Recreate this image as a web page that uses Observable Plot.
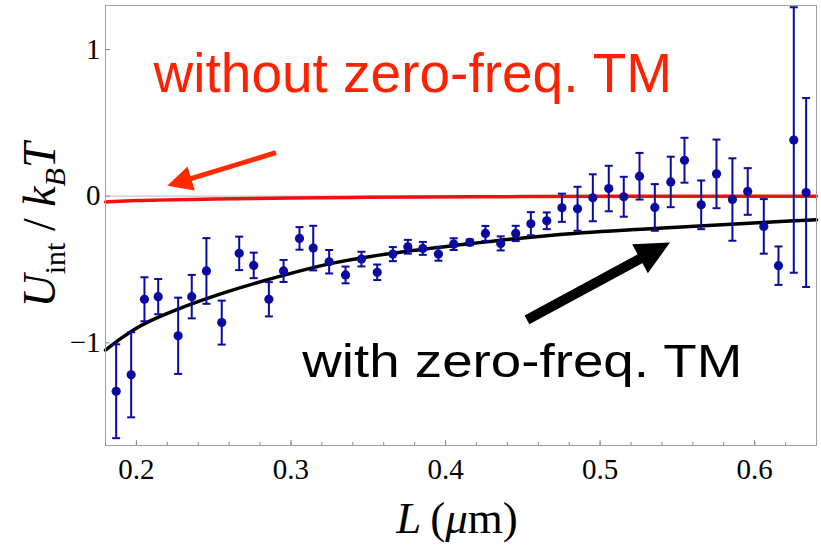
<!DOCTYPE html>
<html><head><meta charset="utf-8">
<script src="https://cdn.jsdelivr.net/npm/d3@7"></script>
<script src="https://cdn.jsdelivr.net/npm/@observablehq/plot@0.6"></script>
<style>
html,body{margin:0;padding:0;background:#fff;}
#chart{width:821px;height:545px;}
</style></head><body><div id="chart"></div>
<script>
// Measured data: separation L (µm), interaction energy U/kBT and its error
const L = [0.1869,0.1966,0.2052,0.2141,0.2270,0.2358,0.2453,0.2552,0.2665,0.2759,0.2857,0.2952,0.3055,0.3144,0.3247,0.3353,0.3456,0.3558,0.3659,0.3756,0.3853,0.3954,0.4053,0.4157,0.4258,0.4357,0.4454,0.4552,0.4655,0.4753,0.4854,0.4953,0.5056,0.5153,0.5255,0.5354,0.5457,0.5546,0.5654,0.5753,0.5856,0.5955,0.6059,0.6154,0.6253,0.6333];
const U = [-1.33,-1.218,-0.703,-0.685,-0.952,-0.685,-0.51,-0.862,-0.39,-0.472,-0.703,-0.51,-0.288,-0.354,-0.447,-0.537,-0.429,-0.519,-0.395,-0.345,-0.356,-0.395,-0.327,-0.315,-0.254,-0.322,-0.254,-0.188,-0.168,-0.079,-0.086,-0.011,0.052,-0.004,0.136,-0.077,0.097,0.245,-0.059,0.152,-0.023,0.032,-0.206,-0.474,0.383,0.025];
const dU = [0.32,0.29,0.15,0.12,0.26,0.148,0.224,0.15,0.114,0.087,0.117,0.075,0.077,0.152,0.08,0.057,0.05,0.053,0.048,0.047,0.044,0.045,0.04,0.02,0.051,0.048,0.052,0.079,0.057,0.096,0.15,0.16,0.155,0.136,0.159,0.159,0.172,0.153,0.166,0.234,0.281,0.159,0.186,0.131,0.905,0.644];

// Theory curve with zero-frequency TM (black)
const withL = [0.18,0.19,0.20,0.21,0.227,0.255,0.295,0.3255,0.365,0.415,0.445,0.474,0.535,0.605,0.64];
const withU = [-1.05,-0.97,-0.90,-0.845,-0.77,-0.665,-0.54,-0.46,-0.39,-0.325,-0.29,-0.262,-0.22,-0.18,-0.16];
// Theory curve without zero-frequency TM (red)
const withoutL = [0.18,0.20,0.25,0.30,0.35,0.45,0.64];
const withoutU = [-0.04,-0.03,-0.02,-0.012,-0.008,-0.003,0];

// Ticks
const xTicks = [0.2,0.3,0.4,0.5,0.6];
const xMinorTicks = [0.18,0.20,0.22,0.24,0.26,0.28,0.30,0.32,0.34,0.36,0.38,0.40,0.42,0.44,0.46,0.48,0.50,0.52,0.54,0.56,0.58,0.60,0.62];
const yTicks = [-1,0,1];

// Annotations (data coordinates)
const noteText = ["without zero-freq. TM","with zero-freq. TM"];
const noteL = [0.2111,0.3073];
const noteU = [0.707,-1.234];
const arrowTailL = [0.2906,0.453];
const arrowTailU = [0.293,-0.847];
const arrowTipL = [0.2203,0.5455];
const arrowTipU = [0.068,-0.320];

const points = L.map((l,i)=>({L:l, U:U[i], lo:U[i]-dU[i], hi:U[i]+dU[i]}));
const withCurve = withL.map((l,i)=>({L:l, U:withU[i]}));
const withoutCurve = withoutL.map((l,i)=>({L:l, U:withoutU[i]}));
const notes = noteText.map((t,i)=>({t, L:noteL[i], U:noteU[i]}));

const blue = "#0a0aa0";
const noteColors = ["#ff2200","#000000"];
const arrowColors = ["#ff2a00","#000000"];
const arrowShaft = [5,10];
const arrowHeadLen = [25,34];
const arrowHeadHalf = [12.5,16.5];
const serif = "'Liberation Serif','Times New Roman',serif";
const sans = "'Liberation Sans',Arial,Helvetica,sans-serif";

const capSymbol = {draw(ctx, size){ const r = Math.sqrt(size/Math.PI); ctx.moveTo(-r,0); ctx.lineTo(r,0); }};

function arrowsMark(index, scales, values, dimensions, context) {
  const g = d3.create("svg:g");
  arrowTailL.forEach((_, i) => {
    const x1 = scales.x(arrowTailL[i]), y1 = scales.y(arrowTailU[i]);
    const x2 = scales.x(arrowTipL[i]), y2 = scales.y(arrowTipU[i]);
    const dx = x2-x1, dy = y2-y1, len = Math.hypot(dx,dy), ux = dx/len, uy = dy/len;
    const hl = arrowHeadLen[i], hw = arrowHeadHalf[i];
    const bx = x2-ux*hl, by = y2-uy*hl;
    g.append("line").attr("x1",x1).attr("y1",y1).attr("x2",bx+ux*3).attr("y2",by+uy*3)
      .attr("stroke",arrowColors[i]).attr("stroke-width",arrowShaft[i]);
    g.append("path").attr("d",`M${x2},${y2}L${bx-uy*hw},${by+ux*hw}L${bx+uy*hw},${by-ux*hw}Z`)
      .attr("fill",arrowColors[i]);
  });
  return g.node();
}

const plot = Plot.plot({
  width: 821, height: 545,
  marginLeft: 105, marginRight: 5, marginTop: 5, marginBottom: 100,
  style: {fontFamily: serif, background: "white", color: "black"},
  x: {domain: [0.18, 0.64]},
  y: {domain: [-1.7, 1.3]},
  marks: [
    Plot.ruleY([0], {stroke: "#c8c8c8", strokeWidth: 1.2}),
    Plot.line(withoutCurve, {x: "L", y: "U", stroke: "#ee1111", strokeWidth: 3.5, curve: "monotone-x"}),
    Plot.line(withCurve, {x: "L", y: "U", stroke: "black", strokeWidth: 3.5, curve: "monotone-x"}),
    Plot.ruleX(points, {x: "L", y1: "lo", y2: "hi", stroke: blue, strokeWidth: 2}),
    Plot.dot(points, {x: "L", y: "hi", symbol: capSymbol, r: 4, stroke: blue, fill: "none", strokeWidth: 2}),
    Plot.dot(points, {x: "L", y: "lo", symbol: capSymbol, r: 4, stroke: blue, fill: "none", strokeWidth: 2}),
    Plot.dot(points, {x: "L", y: "U", r: 4.6, fill: blue, stroke: "none"}),
    arrowsMark,
    Plot.text(notes, {x: "L", y: "U", text: "t", fill: (d,i)=>noteColors[i], textAnchor: "start", lineAnchor: "bottom",
      fontFamily: sans, fontSize: (d)=> d.t.startsWith("without") ? 55 : 46}),
    Plot.frame({stroke: "#a0a0a0"}),
    Plot.axisX({ticks: xMinorTicks, tickSize: -3, tickFormat: () => "", stroke: "#888", label: null}),
    Plot.axisX({ticks: xTicks, tickSize: -5, tickPadding: 18, fontSize: 29, tickFormat: d3.format(".1f"), stroke: "#888", fill: "black", label: null}),
    Plot.axisY({ticks: yTicks, tickSize: -5, tickPadding: 10, fontSize: 29, tickFormat: d3.format("d"), stroke: "#888", fill: "black", label: null})
  ]
});

const svg = d3.select(plot);
svg.selectAll("text").filter(function(){ return this.textContent === "with zero-freq. TM"; })
  .attr("textLength", 440).attr("lengthAdjust", "spacingAndGlyphs");
svg.selectAll("text").filter(function(){ return this.textContent === "without zero-freq. TM"; })
  .style("font-size", "55px");

// y-axis title
const yl = svg.append("text").attr("transform","translate(55,225) rotate(-90)")
  .attr("text-anchor","middle").style("font-family",serif).style("font-size","46px").attr("fill","black");
yl.append("tspan").style("font-style","italic").text("U");
yl.append("tspan").attr("dy",10).style("font-size","30px").text("int");
yl.append("tspan").attr("dy",-10).text(" / ");
yl.append("tspan").style("font-style","italic").text("k");
yl.append("tspan").attr("dy",10).style("font-style","italic").style("font-size","30px").text("B");
yl.append("tspan").attr("dy",-10).style("font-style","italic").text("T");

// x-axis title
const xl = svg.append("text").attr("x",457).attr("y",533)
  .attr("text-anchor","middle").style("font-family",serif).style("font-size","45px").attr("fill","black");
xl.append("tspan").style("font-style","italic").text("L");
xl.append("tspan").text("\u2009(");
xl.append("tspan").style("font-style","italic").text("\u03BC");
xl.append("tspan").text("m)");

document.getElementById("chart").appendChild(plot);
</script></body></html>
